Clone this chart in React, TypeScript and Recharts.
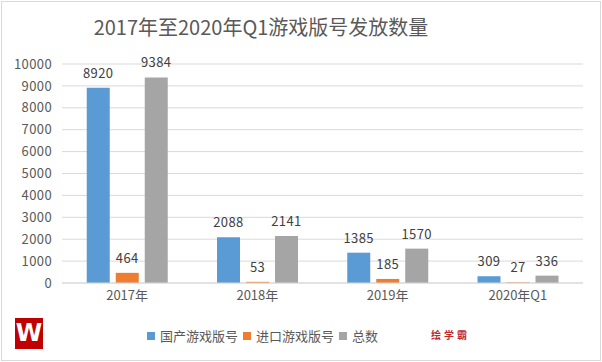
import React from "react";
import { BarChart, Bar, XAxis, YAxis, CartesianGrid, LabelList } from "recharts";

const categories = ["2017年", "2018年", "2019年", "2020年Q1"];
const domestic = [8920, 2088, 1385, 309];
const imported = [464, 53, 185, 27];
const total = [9384, 2141, 1570, 336];
const yTicks = [0, 1000, 2000, 3000, 4000, 5000, 6000, 7000, 8000, 9000, 10000];

const series = [
  { key: "domestic", name: "国产游戏版号", color: "#5B9BD5" },
  { key: "imported", name: "进口游戏版号", color: "#ED7D31" },
  { key: "total", name: "总数", color: "#A5A5A5" },
];

const data = categories.map((name, i) => ({
  name,
  domestic: domestic[i],
  imported: imported[i],
  total: total[i],
}));

const FONT = '"Noto Sans CJK SC", "Noto Sans", sans-serif';

export default function App() {
  return (
    <div
      style={{
        position: "absolute",
        left: 0,
        top: 0,
        width: 602,
        height: 362,
        background: "#fff",
        fontFamily: FONT,
      }}
    >
      <div
        style={{
          position: "absolute",
          left: 1,
          top: 1,
          width: 598,
          height: 358,
          border: "1px solid #d9d9d9",
        }}
      />
      <div
        style={{
          position: "absolute",
          left: 0,
          top: 12,
          width: 522,
          textAlign: "center",
          fontSize: 20,
          color: "#595959",
        }}
      >
        2017年至2020年Q1游戏版号发放数量
      </div>
      <BarChart
        width={602}
        height={362}
        data={data}
        margin={{ top: 64, right: 19, left: 0, bottom: 49 }}
        barCategoryGap="19%"
        barGap={6}
        style={{ position: "absolute", left: 0, top: 0 }}
      >
        <CartesianGrid vertical={false} stroke="#d9d9d9" />
        <XAxis
          dataKey="name"
          tickLine={false}
          axisLine={{ stroke: "#d9d9d9" }}
          tick={{ fontSize: 13, fill: "#595959", fontFamily: FONT }}
          height={30}
        />
        <YAxis
          width={62}
          domain={[0, 10000]}
          ticks={yTicks}
          interval={0}
          axisLine={false}
          tickLine={false}
          tickSize={8}
          tick={{ fontSize: 13, fill: "#595959", fontFamily: FONT, letterSpacing: 0.4 }}
        />
        {series.map((s) => (
          <Bar key={s.key} dataKey={s.key} name={s.name} fill={s.color} isAnimationActive={false}>
            <LabelList
              dataKey={s.key}
              position="top"
              offset={10}
              fill="#404040"
              fontSize={13}
              fontFamily={FONT}
              letterSpacing={0.4}
            />
          </Bar>
        ))}
      </BarChart>
      <div
        style={{
          position: "absolute",
          left: 147,
          top: 326,
          display: "flex",
          alignItems: "center",
          fontSize: 13,
          color: "#595959",
        }}
      >
        {series.map((s) => (
          <div key={s.key} style={{ display: "flex", alignItems: "center", marginRight: 5 }}>
            <span
              style={{
                display: "inline-block",
                width: 8,
                height: 8,
                background: s.color,
                marginRight: 5,
              }}
            />
            <span>{s.name}</span>
          </div>
        ))}
      </div>
      <div
        style={{
          position: "absolute",
          left: 15,
          top: 318,
          width: 28,
          height: 31,
          background: "#c00000",
          color: "#fff",
          fontWeight: 900,
          fontSize: 24,
          lineHeight: "31px",
          textAlign: "center",
          fontFamily: '"DejaVu Sans", sans-serif',
        }}
      >
        W
      </div>
      <div
        style={{
          position: "absolute",
          left: 431,
          top: 327,
          fontSize: 10,
          fontWeight: 700,
          color: "#c0282d",
          letterSpacing: 3,
        }}
      >
        绘学霸
      </div>
    </div>
  );
}
